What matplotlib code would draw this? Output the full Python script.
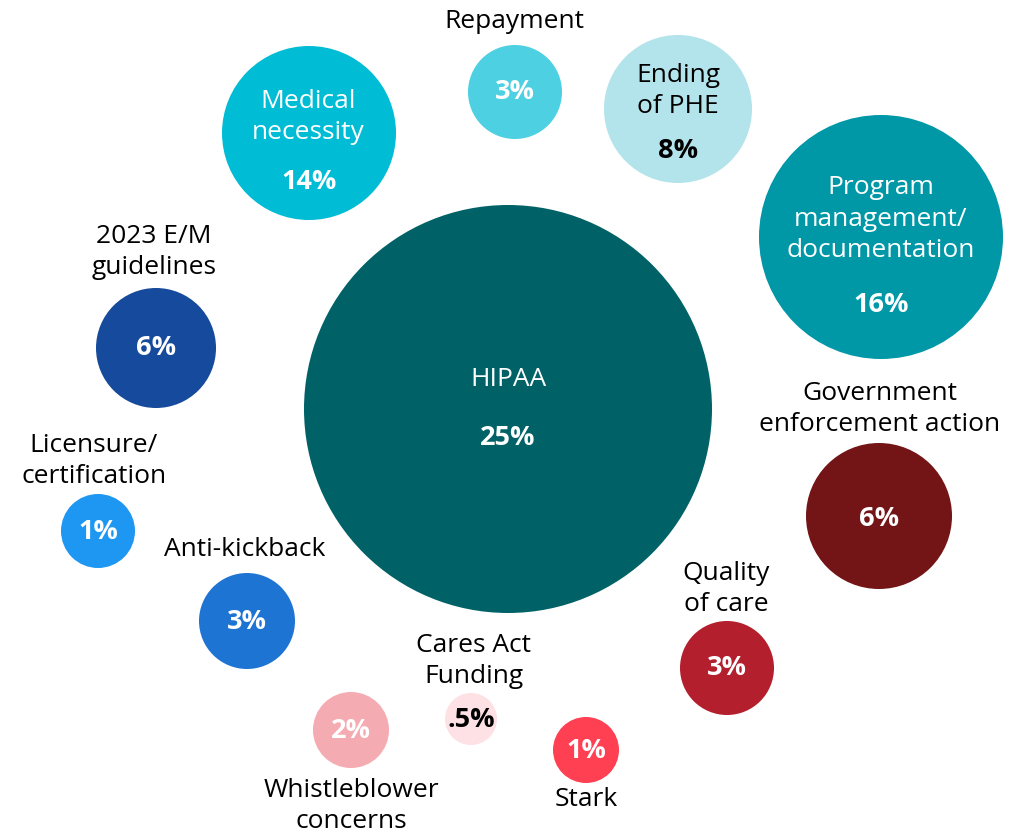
import matplotlib
matplotlib.use("Agg")
import matplotlib.pyplot as plt
from matplotlib.patches import Circle

plt.rcParams['font.family'] = ['Open Sans', 'DejaVu Sans']

# survey results: share of respondents per compliance topic
topics = ["HIPAA", "Program\nmanagement/\ndocumentation", "Medical\nnecessity",
          "Ending\nof PHE", "2023 E/M\nguidelines", "Government\nenforcement action",
          "Repayment", "Anti-kickback", "Quality\nof care", "Whistleblower\nconcerns",
          "Licensure/\ncertification", "Stark", "Cares Act\nFunding"]
shares = [25, 16, 14, 8, 6, 6, 3, 3, 3, 2, 1, 1, 0.5]

# bubble layout (pixel space, y down)
bub_x = [508, 881, 309, 678, 156, 879, 515, 247, 727, 351, 98, 586, 471]
bub_y = [409, 237, 133, 109, 348, 516, 92, 621, 668, 730, 531, 750, 719]
bub_r = [204, 122, 87, 74, 60, 73, 47, 48, 47, 38, 37, 33, 26]
colors = ["#006266", "#0097A7", "#00BCD4", "#B3E3EB", "#164A9C", "#731517",
          "#4DD0E1", "#1E74D2", "#B41F2E", "#F5ABB2", "#1D97F2", "#FF4053", "#FDE1E4"]

# label block centres and percent positions
lab_x = [508, 881, 308, 678, 154, 880, 514, 245, 726, 351, 94, 586, 474]
lab_y = [380, 219, 117, 91, 252, 409, 21, 549, 589, 806, 461, 799, 661]
pct_y = [438, 305, 182, 151, 348, 519, 92, 622, 668, 731, 532, 751, 720]
lab_col = ["white", "white", "white", "black"] + ["black"] * 9
pct_col = ["white"] * 3 + ["black"] + ["white"] * 8 + ["black"]

fig = plt.figure(figsize=(10.28, 8.35), dpi=100)
ax = fig.add_axes([0, 0, 1, 1])
ax.set_xlim(0, 1028)
ax.set_ylim(835, 0)
ax.set_aspect('equal')
ax.axis('off')

for i, t in enumerate(topics):
    ax.add_patch(Circle((bub_x[i], bub_y[i]), bub_r[i], color=colors[i], lw=0))
    ax.text(lab_x[i], lab_y[i], t, ha='center', va='center', fontsize=19,
            color=lab_col[i], linespacing=1.32)
    pct = f"{shares[i]:g}%".lstrip("0")
    ax.text(bub_x[i], pct_y[i], pct, ha='center', va='center', fontsize=19.5,
            fontweight='bold', color=pct_col[i])

fig.savefig("out.png", dpi=100)
